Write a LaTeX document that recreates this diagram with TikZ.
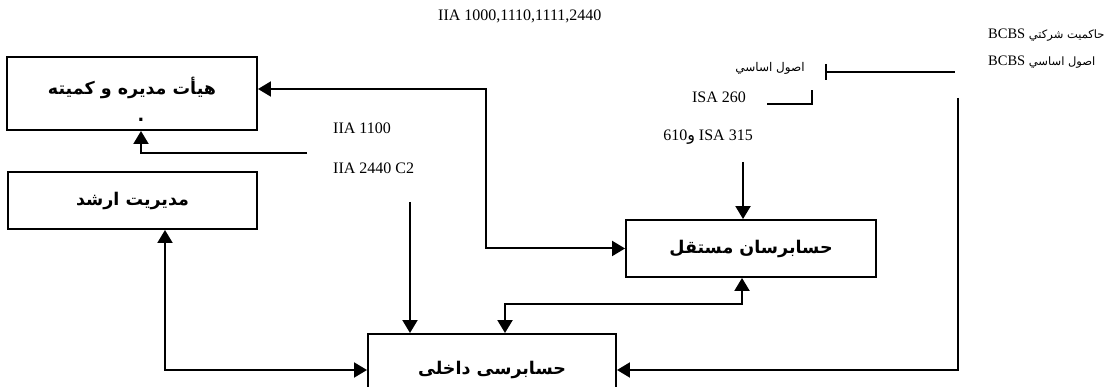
\documentclass[tikz,border=0pt]{standalone}
\usepackage{fontspec}
\setmainfont{Liberation Serif}
\newfontfamily\arabicfont[Script=Arabic]{DejaVu Sans}
\TeXXeTstate=1
\usetikzlibrary{arrows.meta}

\begin{document}
\begin{tikzpicture}[x=1pt, y=-1pt, >={Triangle[length=13pt,width=15pt]},
    box/.style={draw, line width=1.9pt, inner sep=0pt, align=center,
        font=\arabicfont\bfseries\fontsize{17.5}{21}\selectfont},
    link/.style={line width=2pt},
    lbl/.style={inner sep=0pt, font=\fontsize{16}{19}\selectfont},
    small/.style={inner sep=0pt, font=\arabicfont\fontsize{12}{14}\selectfont}]

    % --- Frame ---
    \useasboundingbox (0,0) rectangle (1112,387);
    \clip (0,0) rectangle (1112,387);

    % --- Boxes ---
    \node[box, minimum width=250pt, minimum height=73pt] (board) at (132,93.5)
        {\rule{0pt}{30pt}\beginR هیأت مدیره و کمیته\endR\\[6pt] \hspace{18pt}.};
    \node[box, minimum width=249pt, minimum height=57pt] (mgmt) at (132.5,200.5)
        {\beginR مدیریت ارشد\endR};
    \node[box, minimum width=250pt, minimum height=57pt] (indep) at (751,248.5)
        {\beginR حسابرسان مستقل\endR};
    \node[box, minimum width=248pt, minimum height=72pt] (audit) at (492,370)
        {\beginR حسابرسی داخلی\endR};

    % --- Labels ---
    \node[lbl, anchor=west] (iiaTop) at (438,16) {IIA 1000,1110,1111,2440};
    \node[lbl, anchor=west] (iia1100) at (333,128) {IIA 1100};
    \node[lbl, anchor=west] (iia2440) at (333,168) {IIA 2440 C2};
    \node[lbl] (isa260) at (719,97) {ISA 260};
    \node[lbl] (isa315) at (708,137)
        {\beginR\beginL ISA 315\endL{} {\arabicfont و}610\endR};
    \node[small] (usul) at (770,68) {\beginR اصول اساسي\endR};
    \node[lbl, anchor=west, font=\fontsize{14.5}{17}\selectfont] (bcbsGov) at (988,35)
        {\beginR{\arabicfont\fontsize{11.5}{13}\selectfont حاكميت شركتي} BCBS\endR};
    \node[lbl, anchor=west, font=\fontsize{14.5}{17}\selectfont] (bcbsCore) at (988,62)
        {\beginR{\arabicfont\fontsize{11.5}{13}\selectfont اصول اساسي} BCBS\endR};

    % --- Free ends ---
    \coordinate (bend) at (486,89);
    \coordinate (iiaA) at (307,153);
    \coordinate (iiaB) at (410,202);
    \coordinate (isa) at (743,162);
    \coordinate (mid) at (505,304);
    \coordinate (bcbs) at (958,98);

    % --- Connectors ---
    % 1. Board <-> independent auditors
    \draw[link, <->] ([yshift=4.5pt]board.east) -- (bend) |- (indep.west);
    % 2. IIA 1100 up to the board
    \draw[link, ->] (iiaA) -| ([xshift=9pt]board.south);
    % 3. IIA 2440 C2 down to internal audit
    \draw[link, ->] (iiaB) -- (iiaB |- audit.north);
    % 4. ISA down to independent auditors
    \draw[link, ->] (isa) -- (isa |- indep.north);
    % 5. Independent auditors <-> internal audit
    \draw[link, <->] ([xshift=-9pt]indep.south) |- (mid) -- (mid |- audit.north);
    % 6. Senior management <-> internal audit
    \draw[link, <->] ([xshift=32.5pt]mgmt.south) |- (audit.west);
    % 7. BCBS down to internal audit
    \draw[link, ->] (bcbs) |- (audit.east);

    % --- Brackets ---
    \draw[link] (826,64) -- (826,80);
    \draw[link] (826,72) -- (955,72);
    \draw[link] (767,104) -- (812,104) -- (812,90);

\end{tikzpicture}
\end{document}
